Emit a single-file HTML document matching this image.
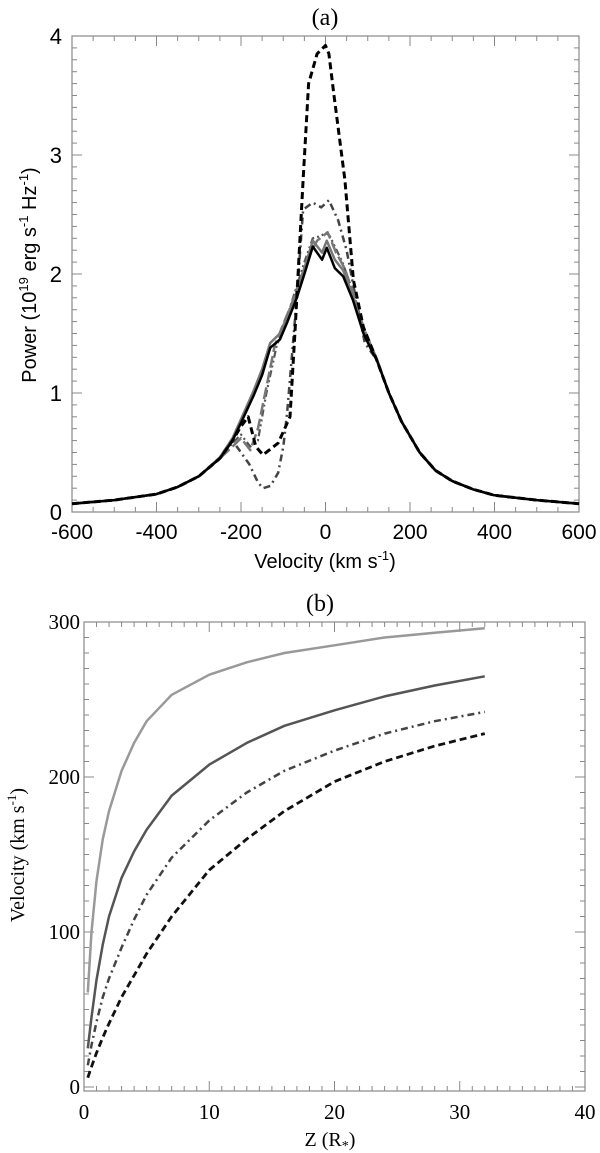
<!DOCTYPE html>
<html><head><meta charset="utf-8"><style>
html,body{margin:0;padding:0;background:#fff;}
svg{display:block;}
</style></head><body>
<svg id="fig" width="600" height="1153" viewBox="0 0 600 1153" xmlns="http://www.w3.org/2000/svg">
<text x="325" y="25" font-family="Liberation Serif, serif" font-size="24" text-anchor="middle">(a)</text>
<text x="320" y="611" font-family="Liberation Serif, serif" font-size="24" text-anchor="middle">(b)</text>
<text transform="translate(36,275) rotate(-90)" font-family="Liberation Sans, sans-serif" font-size="20" text-anchor="middle">Power (10<tspan font-size="13" dy="-8">19</tspan><tspan dy="8"> erg s</tspan><tspan font-size="13" dy="-8">-1</tspan><tspan dy="8"> Hz</tspan><tspan font-size="13" dy="-8">-1</tspan><tspan dy="8">)</tspan></text>
<text x="325" y="568" font-family="Liberation Sans, sans-serif" font-size="20" text-anchor="middle">Velocity (km s<tspan font-size="13" dy="-8">-1</tspan><tspan dy="8">)</tspan></text>
<text transform="translate(24,855) rotate(-90)" font-family="Liberation Serif, serif" font-size="20" text-anchor="middle">Velocity (km s<tspan font-size="13" dy="-8">-1</tspan><tspan dy="8">)</tspan></text>
<text x="330" y="1146" font-family="Liberation Serif, serif" font-size="20" text-anchor="middle">Z (R<tspan font-size="14" dy="4">*</tspan><tspan dy="-4">)</tspan></text>
<g id="ga"></g><g id="gb"></g>
</svg>
<script>
// Panel (a) data
const aTicksX = [-600,-400,-200,0,200,400,600];
const aTicksY = [0,1,2,3,4];
const aSolidBlackV = [-600,-500,-400,-350,-300,-250,-220,-200,-170,-150,-131,-108,-90,-68,-50,-30,-8,3,22,42,65,90,110,121,150,180,223,260,300,350,400,500,600];
const aSolidBlackP = [0.07,0.10,0.15,0.21,0.30,0.45,0.60,0.75,0.98,1.15,1.38,1.45,1.60,1.80,2.00,2.23,2.12,2.22,2.05,1.98,1.78,1.50,1.35,1.28,1.00,0.76,0.50,0.35,0.26,0.19,0.14,0.10,0.07];
const aSolidGrayV = [-600,-500,-400,-350,-300,-250,-220,-200,-170,-150,-131,-108,-90,-68,-50,-30,-8,3,22,42,65,90,110,121,150,180,223,260,300,350,400,500,600];
const aSolidGrayP = [0.07,0.10,0.15,0.21,0.30,0.46,0.62,0.78,1.02,1.20,1.42,1.50,1.65,1.85,2.05,2.28,2.18,2.28,2.12,2.03,1.82,1.53,1.37,1.29,1.00,0.76,0.50,0.35,0.26,0.19,0.14,0.10,0.07];
const aLongDashV = [-600,-500,-400,-350,-300,-250,-220,-200,-178,-160,-140,-120,-100,-80,-60,-40,-20,5,25,45,65,90,110,121,150,180,223,260,300,350,400,500,600];
const aLongDashP = [0.07,0.10,0.15,0.21,0.30,0.45,0.55,0.62,0.52,0.70,1.05,1.40,1.58,1.75,1.95,2.15,2.28,2.35,2.18,2.05,1.85,1.55,1.38,1.29,1.00,0.76,0.50,0.35,0.26,0.19,0.14,0.10,0.07];
const aDashDotDotV = [-600,-500,-400,-350,-300,-250,-220,-200,-178,-160,-140,-116,-90,-68,-50,-30,-10,0,10,40,65,90,110,121,150,180,223,260,300,350,400,500,600];
const aDashDotDotP = [0.07,0.10,0.15,0.21,0.30,0.45,0.58,0.65,0.55,0.60,1.00,1.39,1.65,1.90,2.10,2.30,2.32,2.35,2.32,2.10,1.85,1.55,1.38,1.29,1.00,0.76,0.50,0.35,0.26,0.19,0.14,0.10,0.07];
const aDashDotV = [-600,-500,-400,-350,-300,-250,-220,-200,-180,-160,-148,-130,-112,-100,-91,-68,-53,-30,-10,8,30,50,66,93,121,150,180,223,260,300,350,400,500,600];
const aDashDotP = [0.07,0.10,0.15,0.21,0.30,0.45,0.60,0.50,0.40,0.25,0.20,0.22,0.33,0.55,0.83,1.80,2.54,2.60,2.56,2.62,2.45,2.20,1.90,1.42,1.28,1.00,0.76,0.50,0.35,0.26,0.19,0.14,0.10,0.07];
const aDashedV = [-600,-500,-400,-350,-300,-250,-220,-200,-183,-165,-148,-112,-84,-72,-53,-40,-20,0,8,20,46,66,90,121,150,180,223,260,300,350,400,500,600];
const aDashedP = [0.07,0.10,0.15,0.21,0.30,0.45,0.60,0.72,0.80,0.55,0.48,0.58,0.80,1.53,2.79,3.60,3.85,3.92,3.85,3.50,2.79,1.95,1.55,1.28,1.00,0.76,0.50,0.35,0.26,0.19,0.14,0.10,0.07];
// Panel (b) data
const bTicksX = [0,10,20,30,40];
const bTicksY = [0,100,200,300];
const bZ = [0.3,0.6,1,1.5,2,3,4,5,7,10,13,16,20,24,28,32];
const bLightGray = [61,100,133,160,178,204,222,236,253,266,274,280,285,290,293,296];
const bDarkGray = [25,45,69,92,110,135,152,166,188,208,222,233,243,252,259,265];
const bDashDot = [14,27,42,58,70,90,108,124,148,172,190,204,217,228,236,242];
const bDashed = [6,13,22,32,41,58,72,86,110,140,160,178,197,210,220,228];

const NS="http://www.w3.org/2000/svg";
function mk(tag,attrs,parent){const e=document.createElementNS(NS,tag);for(const k in attrs)e.setAttribute(k,attrs[k]);parent.appendChild(e);return e;}

// Panel A axes
const aL=72,aR=579,aT=36,aB=512;
const ax=v=>aL+(v+600)/1200*(aR-aL);
const ay=p=>aB-p/4*(aB-aT);
const ga=document.getElementById('ga');
const fa=mk('rect',{x:aL,y:aT,width:aR-aL,height:aB-aT,fill:'none',stroke:'#888','stroke-width':1.2},ga);


for(let v=-600;v<=600;v+=50){const maj=v%200===0;const L=maj?10:5;
 mk('line',{x1:ax(v),x2:ax(v),y1:aB,y2:aB-L,stroke:'#888'},ga);
 mk('line',{x1:ax(v),x2:ax(v),y1:aT,y2:aT+L,stroke:'#888'},ga);}
for(let i=0;i<=40;i++){const p=i/10;const maj=i%10===0;const L=maj?10:5;
 mk('line',{x1:aL,x2:aL+L,y1:ay(p),y2:ay(p),stroke:'#888'},ga);
 mk('line',{x1:aR,x2:aR-L,y1:ay(p),y2:ay(p),stroke:'#888'},ga);}
aTicksX.forEach(v=>{const t=mk('text',{x:ax(v),y:539,'font-family':'Liberation Sans, sans-serif','font-size':21,'text-anchor':'middle'},ga);t.textContent=v;
 
 });
aTicksY.forEach(p=>{const t=mk('text',{x:aL-10,y:ay(p)+8,'font-family':'Liberation Sans, sans-serif','font-size':22,'text-anchor':'end'},ga);t.textContent=p;
 
 });
function lineA(V,P,stroke,dash,w,name){const d=V.map((v,i)=>(i?'L':'M')+ax(v).toFixed(1)+','+ay(P[i]).toFixed(1)).join('');
 const e=mk('path',{d:d,fill:'none',stroke:stroke,'stroke-width':w,'stroke-dasharray':dash,'stroke-linejoin':'round'},ga);
 
 }
lineA(aDashDotV,aDashDotP,'#444','7,4,2,4',2.5,'series-dash-dot');
lineA(aDashDotDotV,aDashDotDotP,'#555','7,3,2,3,2,3',2.2,'series-dash-dot-dot');
lineA(aLongDashV,aLongDashP,'#777','12,4',2.5,'series-long-dash');
lineA(aSolidGrayV,aSolidGrayP,'#777','none',2.5,'series-solid-gray');
lineA(aSolidBlackV,aSolidBlackP,'#000','none',2.5,'series-solid-black');
lineA(aDashedV,aDashedP,'#000','7,4',3,'series-dashed');

// Panel B axes
const bL=84,bR=585,bT=622,bB=1091;
const bx=z=>bL+z/40*(bR-bL);
const by=v=>1087-v*1.55;
const gb=document.getElementById('gb');
const fb=mk('rect',{x:bL,y:bT,width:bR-bL,height:bB-bT,fill:'none',stroke:'#888','stroke-width':1.2},gb);


for(let z=0;z<=40;z++){const L=z%10===0?10:5;
 mk('line',{x1:bx(z),x2:bx(z),y1:bB,y2:bB-L,stroke:'#888'},gb);
 mk('line',{x1:bx(z),x2:bx(z),y1:bT,y2:bT+L,stroke:'#888'},gb);}
for(let v=0;v<=300;v+=10){const L=v%100===0?10:5;
 mk('line',{x1:bL,x2:bL+L,y1:by(v),y2:by(v),stroke:'#888'},gb);
 mk('line',{x1:bR,x2:bR-L,y1:by(v),y2:by(v),stroke:'#888'},gb);}
bTicksX.forEach(z=>{const t=mk('text',{x:bx(z),y:1119,'font-family':'Liberation Serif, serif','font-size':21,'text-anchor':'middle'},gb);t.textContent=z;
 
 });
bTicksY.forEach(v=>{const t=mk('text',{x:bL-4,y:by(v)+7,'font-family':'Liberation Serif, serif','font-size':21,'text-anchor':'end'},gb);t.textContent=v;
 
 });
function lineB(Y,stroke,dash,w,name){const d=bZ.map((z,i)=>(i?'L':'M')+bx(z).toFixed(1)+','+by(Y[i]).toFixed(1)).join('');
 const e=mk('path',{d:d,fill:'none',stroke:stroke,'stroke-width':w,'stroke-dasharray':dash,'stroke-linejoin':'round'},gb);
 
 }
lineB(bLightGray,'#999','none',2.5,'velocity-light-gray');
lineB(bDarkGray,'#555','none',2.5,'velocity-dark-gray');
lineB(bDashDot,'#444','7,4,2,4',2.5,'velocity-dash-dot');
lineB(bDashed,'#111','7,4',2.8,'velocity-dashed');
</script>
</body></html>
